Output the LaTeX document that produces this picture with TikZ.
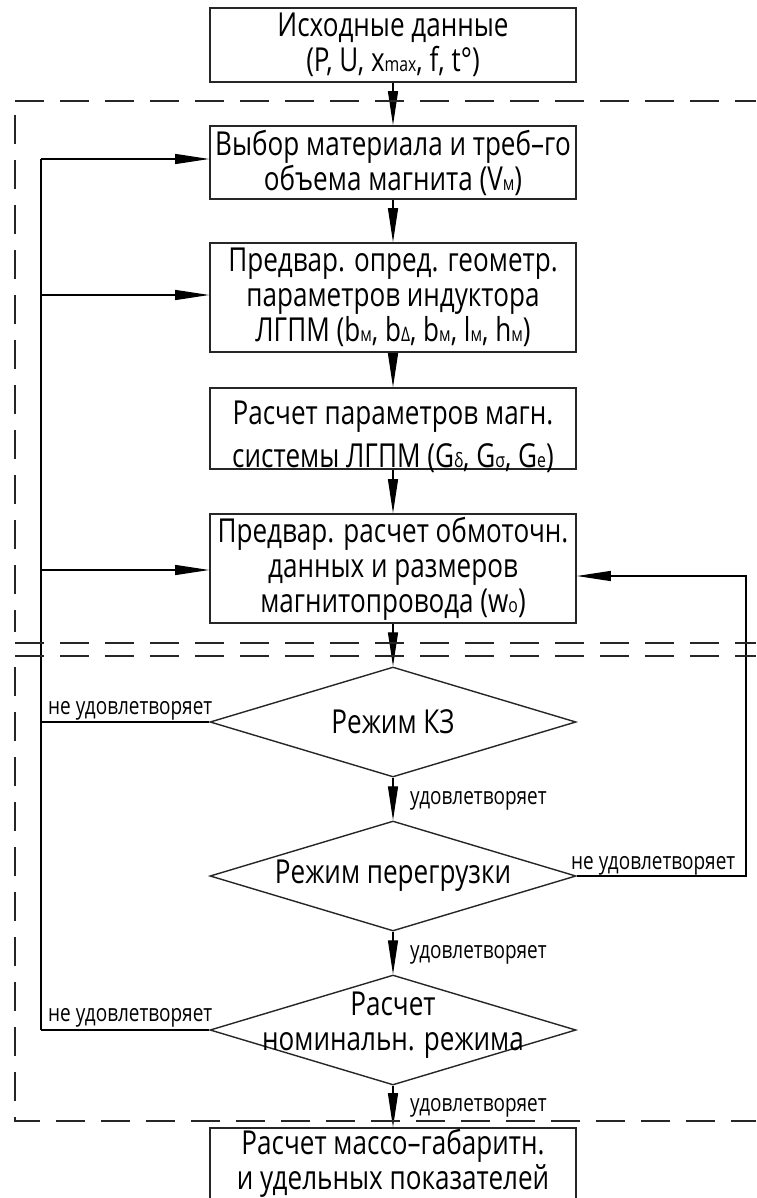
\documentclass[tikz,border=0pt]{standalone}
\usepackage{fontspec}
\setmainfont{Open Sans}[FakeStretch=0.79]
\usetikzlibrary{arrows.meta,shapes.geometric,calc}
\newcommand{\sbs}[1]{{\fontsize{20}{20}\selectfont #1}}
\begin{document}
\begin{tikzpicture}[x=1pt,y=-1pt,
  box/.style={draw=black!85, line width=1.6pt, minimum width=366pt, inner sep=0pt, align=center, font=\fontsize{33}{35}\selectfont},
  dia/.style={draw=black!85, line width=1.4pt, diamond, minimum width=366pt, minimum height=110pt, inner sep=0pt},
  txt/.style={align=center, inner sep=0pt, font=\fontsize{33}{35}\selectfont},
  lbl/.style={inner sep=0pt, font=\fontsize{24}{26}\selectfont},
  arr/.style={line width=1.2pt, -{Triangle[length=34pt,width=10pt]}},
  ln/.style={line width=1.2pt},
  dsh/.style={line width=1.4pt, dash pattern=on 29pt off 16pt, black!85}]
\useasboundingbox (0,0) rectangle (756,1198);
\fill[white] (0,0) rectangle (756,1198);
% boxes
\node[box, minimum height=74pt] (b1) at (393,45) {Исходные данные\\(P, U, x\sbs{max}, f, t°)};
\node[box, minimum height=73pt] (b2) at (393,162.5) {Выбор материала и треб–го\\объема магнита (V\sbs{м})};
\node[box, minimum height=109pt] (b3) at (393,297.5) {Предвар. опред. геометр.\\параметров индуктора\\ЛГПМ (b\sbs{м}, b\sbs{Δ}, b\sbs{м}, l\sbs{м}, h\sbs{м})};
\node[box, minimum height=81pt] (b4) at (393,428.5) {};
\node[txt, font=\fontsize{33}{43.5}\selectfont] (t4) at (393,437) {Расчет параметров магн.\\системы ЛГПМ (G\sbs{δ}, G\sbs{σ}, G\sbs{e})};
\node[box, minimum height=109pt] (b5) at (393,568.5) {Предвар. расчет обмоточн.\\данных и размеров\\магнитопровода (w\sbs{o})};
\node[box, minimum height=92pt] (b6) at (393,1174) {};
\node[txt, font=\fontsize{33}{35}\selectfont] (t6) at (393,1163) {Расчет массо–габаритн.\\и удельных показателей};
% diamonds
\node[dia] (d1) at (393,722) {};
\node[txt] (td1) at (d1.center) {Режим КЗ};
\node[dia] (d2) at (393,876) {};
\node[txt] (td2) at (d2.center) {Режим перегрузки};
\node[dia] (d3) at (393,1030) {};
\node[txt] (td3) at (393,1025.5) {Расчет\\номинальн. режима};
% main flow
\draw[arr] (b1.south) -- (b2.north);
\draw[arr] (b2.south) -- (b3.north);
\draw[arr] (b3.south) -- (b4.north);
\draw[arr] (b4.south) -- (b5.north);
\draw[arr] (b5.south) -- (d1.north);
\draw[arr] (d1.south) -- (d2.north);
\draw[arr] (d2.south) -- (d3.north);
\draw[arr] (d3.south) -- (b6.north);
% left feedback
\coordinate (L1) at (41,159);
\coordinate (L2) at (41,295);
\coordinate (L5) at (41,570);
\coordinate (Ld1) at (41,722);
\coordinate (Ld3) at (41,1030);
\draw[ln] (L1) -- (Ld3);
\draw[arr] (L1) -- (L1 -| b2.west);
\draw[arr] (L2) -- (L2 -| b3.west);
\draw[arr] (L5) -- (L5 -| b5.west);
\draw[ln] (d1.west) -- (Ld1);
\draw[ln] (d3.west) -- (Ld3);
% right feedback
\coordinate (R) at (746,576);
\draw[arr] (d2.east) -| (R) -- (R -| b5.east);
% dashed frames
\draw[dsh] (15,101) -- (756,101);
\draw[dsh] (15,115) -- (15,632);
\draw[dsh] (15,643) -- (756,643);
\draw[dsh] (15,656) -- (756,656);
\draw[dsh] (15,667) -- (15,1121) -- (756,1121);
% labels
\node[lbl, anchor=base west] (nl1) at (48,714) {не удовлетворяет};
\node[lbl, anchor=base west] (nl3) at (48,1021) {не удовлетворяет};
\node[lbl, anchor=base west] (nr2) at (571,869) {не удовлетворяет};
\node[lbl, anchor=base west] (y1) at (410,804) {удовлетворяет};
\node[lbl, anchor=base west] (y2) at (410,958) {удовлетворяет};
\node[lbl, anchor=base west] (y3) at (410,1111) {удовлетворяет};
\end{tikzpicture}
\end{document}
